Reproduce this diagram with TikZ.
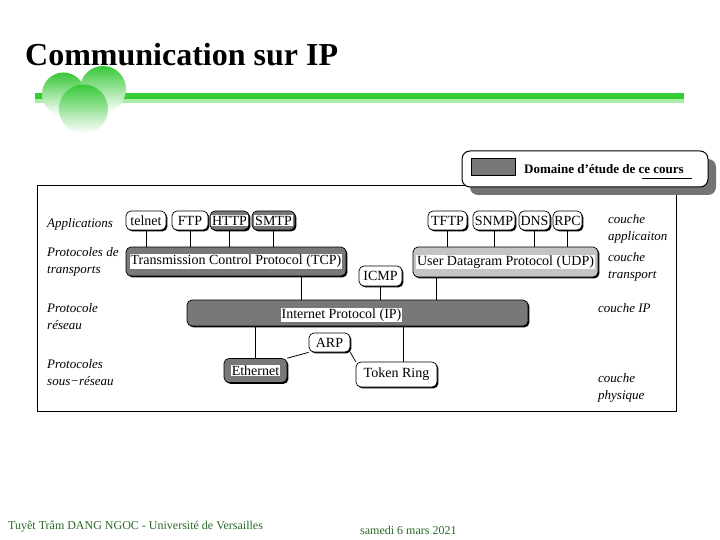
\documentclass[tikz,border=0pt]{standalone}
\usepackage{fontspec}
\setmainfont{Liberation Serif}
\usepackage{tikz}
\usetikzlibrary{shadows}
\definecolor{boxgray}{RGB}{120,120,120}
\definecolor{udpgray}{RGB}{196,196,196}
\definecolor{bargreen}{RGB}{51,204,51}
\definecolor{barlight}{RGB}{170,238,170}
\definecolor{ballgreen}{RGB}{55,200,55}
\definecolor{footgreen}{RGB}{40,105,40}
\newcommand\onwhite[1]{{\setlength\fboxsep{0.8pt}\colorbox{white}{#1}}}

\begin{document}
\begin{tikzpicture}[x=1pt, y=-1pt,
  proto/.style={draw, rounded corners=5pt, fill=white, line width=0.7pt, inner sep=0pt,
    font=\fontsize{14}{16}\selectfont,
    drop shadow={shadow xshift=1.4pt, shadow yshift=-1.4pt, fill=black, opacity=1}},
  dark/.style={proto, fill=boxgray},
  layer/.style={anchor=north west, align=left, inner sep=0pt, font=\fontsize{13}{17}\selectfont\itshape},
  link/.style={line width=0.8pt}]
\useasboundingbox (0,0) rectangle (720,540);
\fill[white] (0,0) rectangle (720,540);

% title and banner
\node[anchor=base west, inner sep=0pt, font=\bfseries\fontsize{32}{36}\selectfont] (title) at (25,66) {Communication sur IP};
\fill[bargreen] (35,93) rectangle (684,99.5);
\fill[barlight] (35,99.5) rectangle (684,103.5);
\shade[top color=ballgreen, middle color=ballgreen!60, bottom color=white] (63.5,94) circle [radius=21.5];
\shade[top color=ballgreen, middle color=ballgreen!60, bottom color=white] (103,89) circle [radius=23];
\shade[top color=ballgreen, middle color=ballgreen!55, bottom color=white] (83.5,109) circle [radius=24.5];

% frame and legend
\draw[line width=1pt] (37,186) rectangle (676,411);
\node[draw, fill=white, rounded corners=8pt, line width=1pt, minimum width=246pt, minimum height=36pt,
  drop shadow={shadow xshift=8pt, shadow yshift=-8pt, fill=black!55, opacity=1}] (legend) at (585,169) {};
\node[draw, fill=boxgray, minimum width=44pt, minimum height=17pt, inner sep=0pt] (legsq) at (493,166.5) {};
\node[anchor=base west, inner sep=0pt, font=\bfseries\fontsize{13}{15}\selectfont] (legtxt) at (524,174) {Domaine d’étude de ce cours};
\draw[line width=0.8pt] ([xshift=-42pt,yshift=-4pt]legtxt.base east) -- ([xshift=8pt,yshift=-4pt]legtxt.base east);

% layer names
\node[layer] (lapp) at (47,218) {Applications};
\node[layer] (ltrans) at (47,247) {Protocoles de\\transports};
\node[layer] (lnet) at (47,303) {Protocole\\réseau};
\node[layer] (lsub) at (47,359) {Protocoles\\sous−réseau};
\node[layer] (rapp) at (608,214) {couche\\applicaiton};
\node[layer] (rtrans) at (608,252) {couche\\transport};
\node[layer] (rip) at (598,303) {couche IP};
\node[layer] (rphys) at (598,373) {couche\\physique};

% protocols
\node[proto, minimum width=40pt, minimum height=19pt] (telnet) at (146,220.5) {telnet};
\node[proto, minimum width=36pt, minimum height=19pt] (ftp) at (190,220.5) {FTP};
\node[dark, minimum width=39pt, minimum height=19pt] (http) at (229.5,220.5) {\onwhite{HTTP}};
\node[dark, minimum width=43pt, minimum height=19pt] (smtp) at (273.5,220.5) {\onwhite{SMTP}};
\node[proto, minimum width=39pt, minimum height=19pt] (tftp) at (447.5,220.5) {TFTP};
\node[proto, minimum width=42pt, minimum height=19pt] (snmp) at (494,220.5) {SNMP};
\node[proto, minimum width=31pt, minimum height=19pt] (dns) at (534.5,220.5) {DNS};
\node[proto, minimum width=29pt, minimum height=19pt] (rpc) at (567.5,220.5) {RPC};
\node[dark, minimum width=220pt, minimum height=29pt] (tcp) at (236,261.5) {\onwhite{Transmission Control Protocol (TCP)}};
\node[proto, fill=udpgray, minimum width=185pt, minimum height=30pt] (udp) at (505.5,262) {\onwhite{User Datagram Protocol (UDP)}};
\node[proto, minimum width=43pt, minimum height=20pt] (icmp) at (380.5,276) {ICMP};
\node[dark, minimum width=341pt, minimum height=26pt] (ip) at (357.5,313) {};
\node[inner sep=0pt, font=\fontsize{14}{16}\selectfont] (iplbl) at (341.5,315) {\onwhite{Internet Protocol (IP)}};
\node[proto, minimum width=41pt, minimum height=19pt] (arp) at (329.5,342.5) {ARP};
\node[dark, minimum width=63pt, minimum height=24pt] (eth) at (255.5,370.5) {\onwhite{Ethernet}};
\node[proto, minimum width=81pt, minimum height=25pt] (tring) at (396.5,374.5) {Token Ring};

\foreach \p in {telnet,ftp,http,smtp}
  \draw[link] (\p.south) -- (\p.south |- tcp.north);
\foreach \p in {tftp,snmp,dns,rpc}
  \draw[link] (\p.south) -- (\p.south |- udp.north);
\draw[link] ([xshift=65pt]tcp.south) -- ([xshift=65pt]tcp.south |- ip.north);
\draw[link] (icmp.south) -- (icmp.south |- ip.north);
\draw[link] ([xshift=-69.5pt]udp.south) -- ([xshift=-69.5pt]udp.south |- ip.north);
\draw[link] (eth.north) -- (eth.north |- ip.south);
\draw[link] ([xshift=6.5pt]tring.north) -- ([xshift=6.5pt]tring.north |- ip.south);
\draw[link] (arp.south west) -- (eth.north east);
\draw[link] (arp.south east) -- (tring.north west);

% footer
\node[anchor=base west, inner sep=0pt, text=footgreen, font=\fontsize{12}{14}\selectfont] (author) at (8,529) {Tuyêt Trâm DANG NGOC - Université de Versailles};
\node[anchor=base west, inner sep=0pt, text=footgreen, font=\fontsize{12}{14}\selectfont] (date) at (360,534) {samedi 6 mars 2021};
\end{tikzpicture}
\end{document}
